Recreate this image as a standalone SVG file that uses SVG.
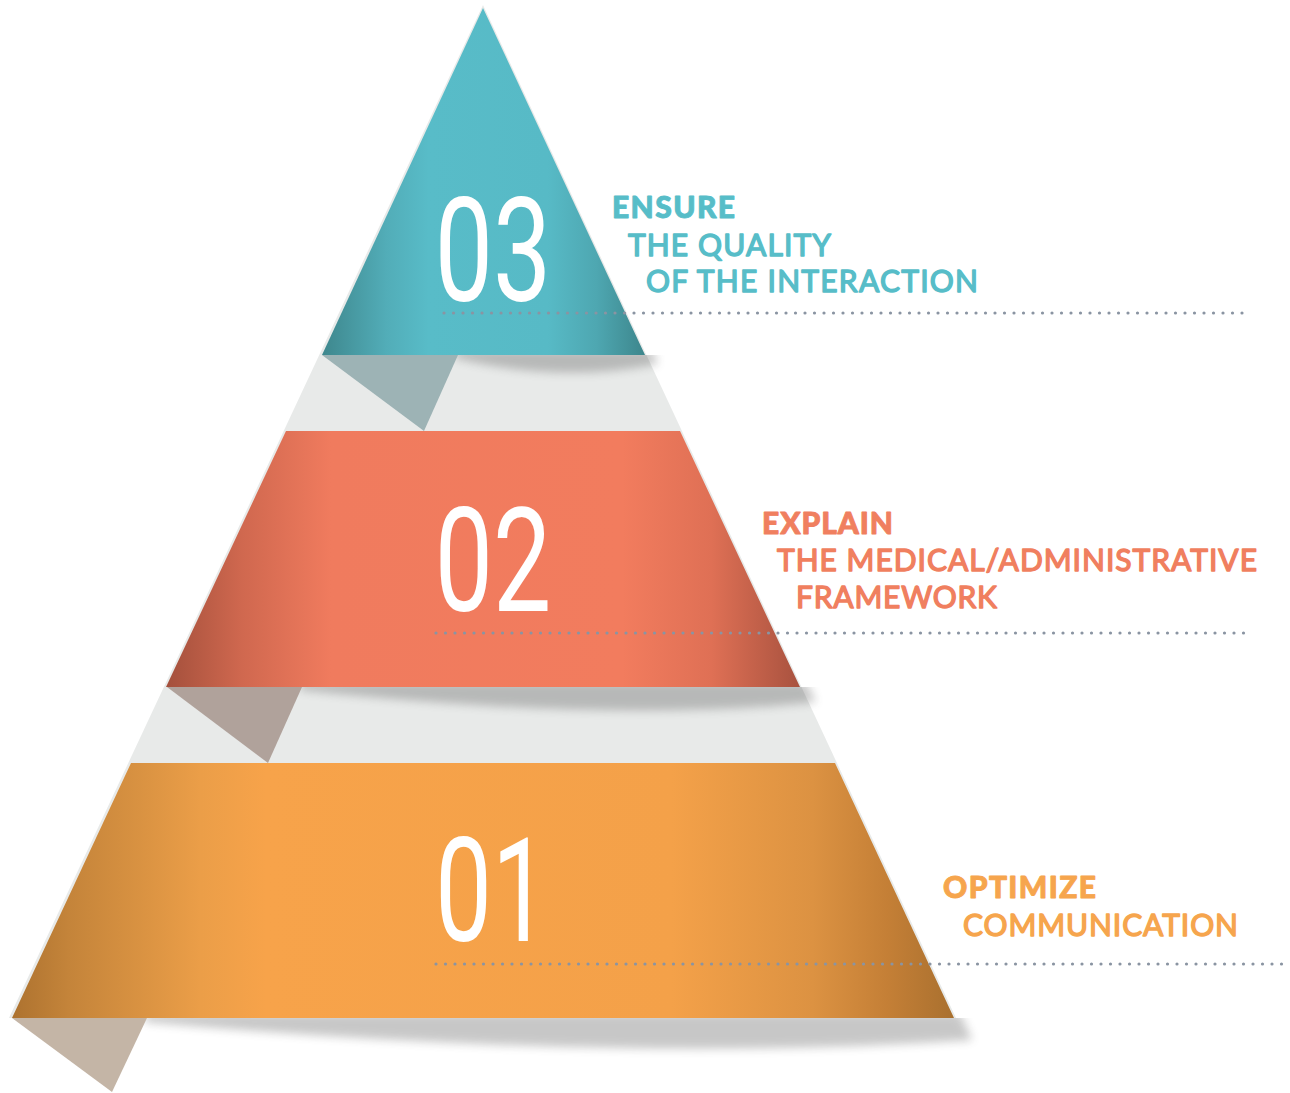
<svg xmlns="http://www.w3.org/2000/svg" width="1290" height="1093" viewBox="0 0 1290 1093">
<defs>
<style>
.num{font-family:Roboto,"Liberation Sans",sans-serif;font-size:144px;fill:#fff;text-anchor:middle}
.hd{font-family:Lato,"Liberation Sans",sans-serif;font-weight:900;font-size:30px;stroke-width:0.9;stroke-linejoin:round}
.sb{font-family:Lato,"Liberation Sans",sans-serif;font-weight:400;font-size:30px;stroke-width:1.4;stroke-linejoin:round}
.teal{fill:#57bdc8;stroke:#57bdc8}.sal{fill:#f07f5f;stroke:#f07f5f}.org{fill:#f6a54d;stroke:#f6a54d}
.dots{stroke:#8a94a2;stroke-width:3.2;stroke-linecap:round;stroke-dasharray:0 9.5;fill:none}
.fold1{fill:#9db3b5}.fold2{fill:#b0a29b}.fold3{fill:#c4b5a6}
.shadow{fill:#3a3a3a;opacity:0.28;filter:url(#blur)}
</style>
<linearGradient id="gT" gradientUnits="userSpaceOnUse" x1="322" y1="0" x2="645" y2="0">
<stop offset="0" stop-color="#3e878d"/><stop offset="0.2" stop-color="#52adb8"/><stop offset="0.33" stop-color="#58bcc8"/><stop offset="0.7" stop-color="#57bac6"/><stop offset="0.85" stop-color="#4ea7b1"/><stop offset="1" stop-color="#3d868c"/>
</linearGradient>
<linearGradient id="gS" gradientUnits="userSpaceOnUse" x1="166" y1="0" x2="800" y2="0">
<stop offset="0" stop-color="#a4503c"/><stop offset="0.12" stop-color="#d0684f"/><stop offset="0.26" stop-color="#f07b5e"/><stop offset="0.72" stop-color="#f27c5e"/><stop offset="0.86" stop-color="#df7055"/><stop offset="1" stop-color="#a8523f"/>
</linearGradient>
<linearGradient id="gO" gradientUnits="userSpaceOnUse" x1="12" y1="0" x2="954" y2="0">
<stop offset="0" stop-color="#ad722f"/><stop offset="0.06" stop-color="#c4843a"/><stop offset="0.2" stop-color="#eb9e48"/><stop offset="0.27" stop-color="#f7a34a"/><stop offset="0.7" stop-color="#f4a149"/><stop offset="0.85" stop-color="#dc9242"/><stop offset="0.93" stop-color="#c47f36"/><stop offset="1" stop-color="#a9702f"/>
</linearGradient>
<filter id="blur" x="-10%" y="-100%" width="120%" height="300%"><feGaussianBlur stdDeviation="5"/></filter>
<clipPath id="c1"><rect x="0" y="355" width="1290" height="80"/></clipPath>
<clipPath id="c2"><rect x="0" y="687" width="1290" height="80"/></clipPath>
<clipPath id="c3"><rect x="0" y="1018" width="1290" height="75"/></clipPath>
</defs>
<rect width="1290" height="1093" fill="#fff"/>
<polygon points="483,5 9,1018 956,1018" fill="#e8eae9"/>
<g clip-path="url(#c1)"><path class="shadow" d="M455,350 L652,350 L658,364 Q560,384 455,358 Z"/></g>
<g clip-path="url(#c2)"><path class="shadow" d="M300,682 L806,682 L816,702 Q620,724 300,690 Z"/></g>
<g clip-path="url(#c3)"><path class="shadow" d="M145,1013 L960,1013 L972,1040 Q620,1064 145,1022 Z"/></g>
<g id="tier3">
<polygon class="fold1" points="322,355 458,355 424,431"/>
<polygon points="483,8 322,355 645,355" fill="url(#gT)"/>
<text class="num" transform="translate(493,301) scale(0.72,1)">03</text>
<text class="hd teal" x="612" y="218" textLength="123">ENSURE</text>
<text class="sb teal" x="628" y="256" textLength="203">THE QUALITY</text>
<text class="sb teal" x="646" y="292" textLength="332">OF THE INTERACTION</text>
</g>
<g id="tier2">
<polygon class="fold2" points="167,687 302,687 268,763"/>
<polygon points="286,431 680,431 800,687 166,687" fill="url(#gS)"/>
<text class="num" transform="translate(493,611) scale(0.72,1)">02</text>
<text class="hd sal" x="762" y="534" textLength="131">EXPLAIN</text>
<text class="sb sal" x="777" y="571" textLength="480">THE MEDICAL/ADMINISTRATIVE</text>
<text class="sb sal" x="796" y="608" textLength="201">FRAMEWORK</text>
</g>
<g id="tier1">
<polygon class="fold3" points="12,1018 147,1018 112,1092"/>
<polygon points="131,763 835,763 954,1018 12,1018" fill="url(#gO)"/>
<text class="num" transform="translate(492,941) scale(0.7,1)">01</text>
<text class="hd org" x="943" y="898" textLength="153">OPTIMIZE</text>
<text class="sb org" x="963" y="936" textLength="275">COMMUNICATION</text>
</g>
<g id="connectors">
<line class="dots" x1="444" y1="313" x2="1246" y2="313"/>
<line class="dots" x1="436" y1="633" x2="1246" y2="633"/>
<line class="dots" x1="436" y1="964" x2="1283" y2="964"/>
</g>
</svg>
